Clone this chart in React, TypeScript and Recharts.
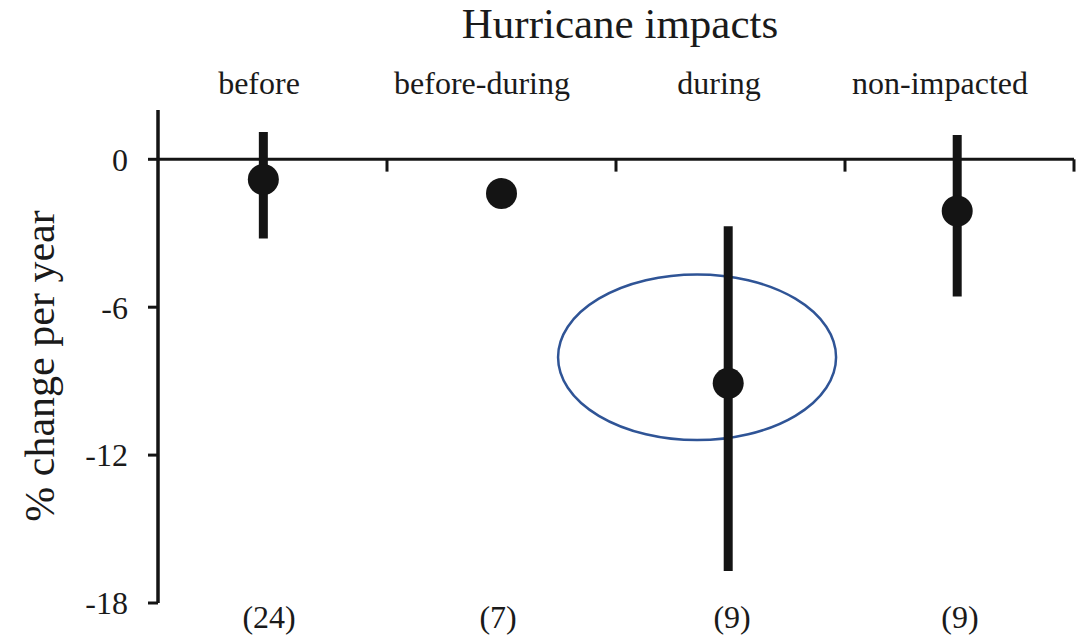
import {
  ScatterChart,
  Scatter,
  XAxis,
  YAxis,
  ErrorBar,
  ReferenceLine,
  ReferenceArea,
} from "recharts"

// values
const groups = ["before", "before-during", "during", "non-impacted"]
const groupX = [0.46, 1.5, 2.49, 3.49]
const meanChange = [-0.82, -1.39, -9.09, -2.1]
const lowCI = [-3.21, -1.39, -16.7, -5.57]
const highCI = [1.11, -1.39, -2.72, 0.99]
const sampleSizes = ["(24)", "(7)", "(9)", "(9)"]

// label positions on the category scale
const groupLabelX = [0.441, 1.415, 2.45, 3.415]
const sampleLabelX = [0.485, 1.485, 2.507, 3.502]
const axisTickX = [1, 2, 3, 4]
const yTicks = [0, -6, -12, -18]

const chartData = groups.map((g, i) => ({
  group: g,
  x: groupX[i],
  y: meanChange[i],
  err: [meanChange[i] - lowCI[i], highCI[i] - meanChange[i]],
}))

const INK = "#141414"
const FONT = "'Liberation Serif', 'Times New Roman', serif"

const TopTick = ({ x, payload }: any) => (
  <text x={x} y={94} textAnchor="middle" fill="#1a1a1a" fontSize={32} fontFamily={FONT}>
    {groups[payload.index]}
  </text>
)

const BottomTick = ({ x, payload }: any) => (
  <text x={x} y={628} textAnchor="middle" fill="#1a1a1a" fontSize={32} fontFamily={FONT}>
    {sampleSizes[payload.index]}
  </text>
)

const Dot = ({ cx, cy }: any) => <circle cx={cx} cy={cy} r={15.5} fill={INK} />
const NoDot = () => <g />

export default function App() {
  return (
    <div style={{ position: "absolute", left: 0, top: 0, width: 1087, height: 637, background: "#fff", fontFamily: FONT }}>
      <div
        style={{
          position: "absolute",
          left: 0,
          top: 2,
          width: 1240,
          textAlign: "center",
          fontSize: 43,
          lineHeight: "43px",
          color: "#1a1a1a",
          fontFamily: FONT,
        }}
      >
        Hurricane impacts
      </div>
      <div
        style={{
          position: "absolute",
          left: -160,
          top: 345,
          width: 400,
          height: 42,
          lineHeight: "42px",
          textAlign: "center",
          fontSize: 42,
          color: "#1a1a1a",
          fontFamily: FONT,
          transform: "rotate(-90deg)",
          whiteSpace: "nowrap",
        }}
      >
        % change per year
      </div>
      <ScatterChart width={1087} height={637} margin={{ top: 0, right: 13, bottom: 0, left: 0 }}>
        <XAxis
          xAxisId="top"
          orientation="top"
          type="number"
          dataKey="x"
          domain={[0, 4]}
          ticks={groupLabelX}
          height={110}
          axisLine={false}
          tickLine={false}
          tick={<TopTick />}
          interval={0}
        />
        <XAxis
          type="number"
          dataKey="x"
          domain={[0, 4]}
          ticks={sampleLabelX}
          height={34}
          axisLine={false}
          tickLine={false}
          tick={<BottomTick />}
          interval={0}
        />
        <YAxis
          type="number"
          dataKey="y"
          domain={[-18, 2]}
          ticks={yTicks}
          width={158}
          interval={0}
          axisLine={{ stroke: INK, strokeWidth: 3.5 }}
          tickLine={{ stroke: INK, strokeWidth: 3 }}
          tickSize={10}
          tickMargin={20}
          tick={{ fill: "#1a1a1a", fontSize: 32, fontFamily: FONT }}
        />
        <ReferenceLine y={0} stroke={INK} strokeWidth={3} />
        {axisTickX.map((t) => (
          <ReferenceLine
            key={t}
            segment={[
              { x: t, y: 0 },
              { x: t, y: -0.5 },
            ]}
            stroke={INK}
            strokeWidth={3}
          />
        ))}
        <ReferenceArea
          x1={1.747}
          x2={2.961}
          y1={-4.67}
          y2={-11.39}
          shape={(p: any) => (
            <ellipse
              cx={p.x + p.width / 2}
              cy={p.y + p.height / 2}
              rx={Math.abs(p.width) / 2}
              ry={Math.abs(p.height) / 2}
              fill="none"
              stroke="#2f5496"
              strokeWidth={2.5}
            />
          )}
        />
        {/* invisible series so the top category axis gets its ticks */}
        <Scatter xAxisId="top" data={chartData} dataKey="y" shape={<NoDot />} isAnimationActive={false} />
        <Scatter data={chartData} dataKey="y" shape={<Dot />} isAnimationActive={false}>
          <ErrorBar dataKey="err" direction="y" width={0} stroke={INK} strokeWidth={9} />
        </Scatter>
      </ScatterChart>
    </div>
  )
}
